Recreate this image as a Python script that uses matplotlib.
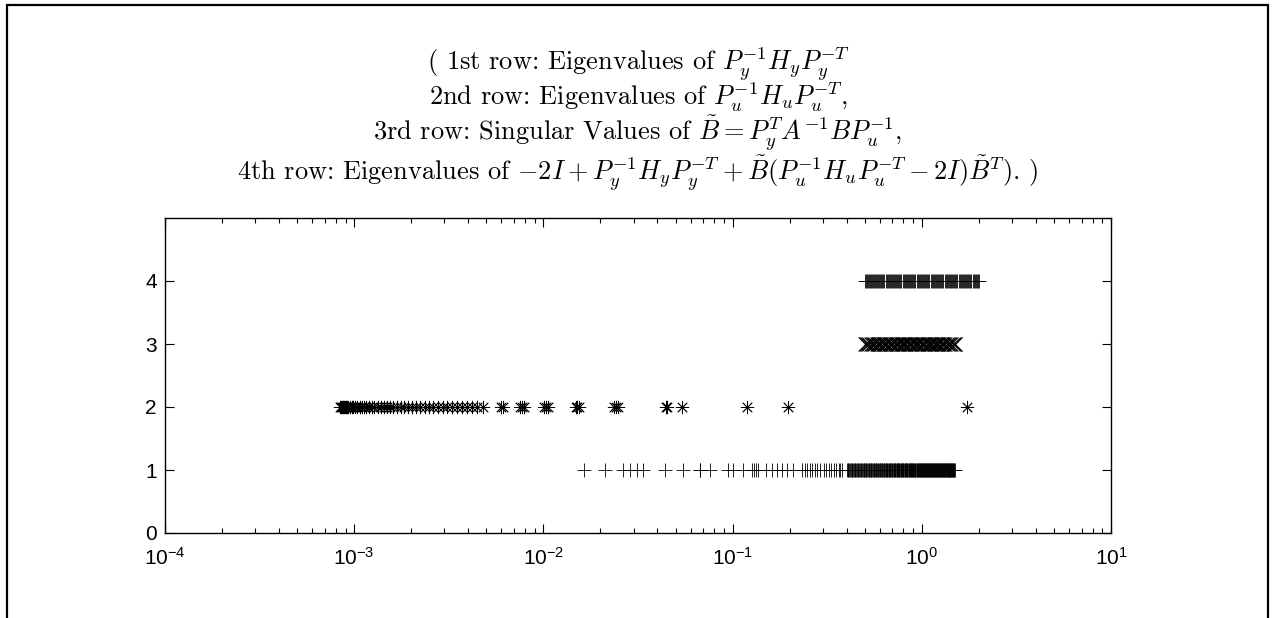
import numpy as np
import matplotlib
matplotlib.use('Agg')
from matplotlib import pyplot as plt
from matplotlib.patches import Rectangle
from matplotlib.ticker import LogLocator, FixedLocator

plt.rcParams['font.family'] = ['Liberation Sans', 'DejaVu Sans']
plt.rcParams['mathtext.fontset'] = 'custom'
plt.rcParams['mathtext.rm'] = 'Liberation Sans'
plt.rcParams['mathtext.it'] = 'Liberation Sans:italic'
plt.rcParams['mathtext.sf'] = 'Liberation Sans'

# row 1: eigenvalues of Py^-1 Hy Py^-T
row1 = [0.0164, 0.0212, 0.0264, 0.0287, 0.0312, 0.0336, 0.0439, 0.0547, 0.0672, 0.0676,
        0.076, 0.0946, 0.1005, 0.1135, 0.127, 0.130, 0.133, 0.136, 0.150, 0.1616,
        0.1714, 0.182, 0.1935, 0.2076, 0.232, 0.240, 0.247, 0.256, 0.264, 0.272,
        0.281, 0.290, 0.304, 0.313, 0.322, 0.333, 0.342, 0.352, 0.363, 0.371, 0.380,
        0.401, 0.405, 0.409, 0.414, 0.418, 0.422, 0.426, 0.430, 0.433, 0.437, 0.441,
        0.446, 0.450, 0.454, 0.458, 0.462, 0.466, 0.470, 0.475, 0.480, 0.484, 0.489,
        0.493, 0.497, 0.501, 0.506, 0.510, 0.514, 0.519, 0.523, 0.528, 0.532, 0.537,
        0.541, 0.546, 0.551, 0.556, 0.561, 0.566, 0.570, 0.575, 0.580, 0.585, 0.590,
        0.594, 0.599, 0.604, 0.609, 0.614, 0.619, 0.624, 0.628, 0.633, 0.638, 0.643,
        0.648, 0.653, 0.658, 0.663, 0.668, 0.673, 0.678, 0.683, 0.689, 0.694, 0.699,
        0.704, 0.709, 0.714, 0.720, 0.725, 0.730, 0.735, 0.741, 0.746, 0.751, 0.756,
        0.762, 0.767, 0.773, 0.778, 0.784, 0.789, 0.795, 0.800, 0.806, 0.811, 0.817,
        0.822, 0.828, 0.833, 0.839, 0.845, 0.851, 0.856, 0.862, 0.868, 0.874, 0.879,
        0.885, 0.891, 0.897, 0.903, 0.909, 0.914, 0.920, 0.926, 0.932, 0.938, 0.944,
        0.950, 0.956, 0.962, 0.969, 0.975, 0.981, 0.987, 0.994, 1.000, 1.006, 1.012,
        1.019, 1.025, 1.032, 1.038, 1.045, 1.051, 1.058, 1.064, 1.071, 1.077, 1.084,
        1.090, 1.097, 1.104, 1.111, 1.117, 1.124, 1.131, 1.138, 1.145, 1.152, 1.159,
        1.166, 1.173, 1.180, 1.187, 1.194, 1.201, 1.209, 1.216, 1.223, 1.230, 1.238,
        1.245, 1.253, 1.260, 1.268, 1.275, 1.283, 1.290, 1.298, 1.305, 1.313, 1.321,
        1.329, 1.336, 1.344, 1.352, 1.360, 1.368, 1.376, 1.384, 1.392, 1.400, 1.408,
        1.416, 1.425, 1.433, 1.441, 1.449, 1.458, 1.466, 1.474, 1.482, 1.490]

# row 2: eigenvalues of Pu^-1 Hu Pu^-T
row2 = [0.00084, 0.00085, 0.00086, 0.00087, 0.00088, 0.00089, 0.00090, 0.00092, 0.00093,
        0.00095, 0.00097, 0.00099, 0.00101, 0.00104, 0.00107, 0.00110, 0.00113, 0.00116,
        0.00120, 0.00124, 0.00128, 0.00133, 0.00138, 0.00143, 0.00149, 0.00155, 0.00161,
        0.00168, 0.00176, 0.00184, 0.00193, 0.00202, 0.00212, 0.00223, 0.00236, 0.00248,
        0.00262, 0.00277, 0.00293, 0.00310, 0.00330, 0.00351, 0.00372, 0.00396, 0.00420,
        0.00448, 0.00478, 0.00598, 0.00612, 0.00752, 0.00770, 0.00790, 0.0101, 0.0103,
        0.0106, 0.0148, 0.0151, 0.0154, 0.0237, 0.0242, 0.0248, 0.0442, 0.0448, 0.0540,
        0.119, 0.196, 1.733]

# row 3: singular values of B~
row3 = [0.498, 0.506, 0.514, 0.521, 0.529, 0.537, 0.545, 0.553, 0.561, 0.569, 0.578,
        0.586, 0.595, 0.604, 0.612, 0.621, 0.630, 0.640, 0.649, 0.658, 0.668, 0.678,
        0.688, 0.698, 0.708, 0.718, 0.729, 0.739, 0.750, 0.761, 0.772, 0.783, 0.795,
        0.806, 0.818, 0.830, 0.842, 0.854, 0.866, 0.879, 0.891, 0.904, 0.917, 0.931,
        0.944, 0.958, 0.972, 0.986, 1.000, 1.014, 1.029, 1.044, 1.059, 1.074, 1.090,
        1.105, 1.121, 1.138, 1.154, 1.171, 1.188, 1.205, 1.222, 1.240, 1.258, 1.276,
        1.295, 1.314, 1.333, 1.352, 1.372, 1.391, 1.412, 1.432, 1.453, 1.474, 1.490, 1.507]

# row 4: eigenvalues of -2I + Py^-1 Hy Py^-T + B~(Pu^-1 Hu Pu^-T - 2I)B~^T
row4 = [0.500, 0.506, 0.513, 0.519, 0.524, 0.531, 0.538, 0.545, 0.551, 0.558, 0.566,
        0.573, 0.580, 0.588, 0.595, 0.603, 0.611, 0.618, 0.627, 0.635, 0.643, 0.651,
        0.660, 0.668, 0.677, 0.686, 0.695, 0.704, 0.713, 0.722, 0.732, 0.741, 0.751,
        0.761, 0.771, 0.781, 0.791, 0.802, 0.812, 0.823, 0.834, 0.845, 0.856, 0.867,
        0.879, 0.890, 0.902, 0.914, 0.926, 0.938, 0.951, 0.963, 0.976, 0.989, 1.002,
        1.015, 1.028, 1.042, 1.056, 1.070, 1.084, 1.098, 1.113, 1.127, 1.142, 1.157,
        1.172, 1.188, 1.203, 1.219, 1.235, 1.252, 1.268, 1.285, 1.302, 1.319, 1.336,
        1.354, 1.372, 1.390, 1.408, 1.427, 1.445, 1.464, 1.484, 1.503, 1.523, 1.543,
        1.564, 1.584, 1.605, 1.626, 1.648, 1.670, 1.692, 1.714, 1.737, 1.760, 1.783,
        1.806, 1.830, 1.855, 1.879, 1.904, 1.929, 1.955, 1.980, 2.005]

rows = [row1, row2, row3, row4]
markers = ['+', (8, 2, 0), 'x', '+']

title_lines = ['( 1st row: Eigenvalues of $P_y^{-1}H_yP_y^{-T}$',
               '2nd row: Eigenvalues of $P_u^{-1}H_uP_u^{-T}$,',
               '3rd row: Singular Values of $\\tilde{B} = P_y^TA^{-1}BP_u^{-1}$,',
               '4th row: Eigenvalues of $-2I + P_y^{-1}H_yP_y^{-T} + '
               '\\tilde{B}(P_u^{-1}H_uP_u^{-T} - 2I)\\tilde{B}^T)$. )']
title_baselines = [70, 105, 140, 180]   # pixels from top

W, H = 1274, 618
fig = plt.figure(figsize=(W/100, H/100), dpi=100)
ax = fig.add_axes([165/W, 85/H, 946/W, 315/H])

for i, vals in enumerate(rows):
    ax.plot(vals, np.full(len(vals), i + 1), linestyle='none', marker=markers[i],
            color='black', markersize=9.5, markeredgewidth=0.6)

ax.set_xscale('log')
ax.set_xlim(1e-4, 1e1)
ax.set_ylim(0, 5)
ax.yaxis.set_major_locator(FixedLocator([0, 1, 2, 3, 4]))
ax.xaxis.set_major_locator(LogLocator(base=10, numticks=10))
ax.xaxis.set_minor_locator(LogLocator(base=10, subs=np.arange(2, 10), numticks=20))
ax.tick_params(which='both', direction='in', top=True, right=True, labelsize=15,
               width=0.8, color='black')
ax.tick_params(which='major', length=6.5)
ax.tick_params(which='minor', length=3.5)
ax.tick_params(axis='x', pad=10)
ax.tick_params(axis='y', pad=6)
for s in ax.spines.values():
    s.set_linewidth(1.0)

for line, yb in zip(title_lines, title_baselines):
    fig.text(638/W, 1 - yb/H, line, ha='center', va='baseline', fontsize=19,
             family='cmr10', math_fontfamily='cm')

# frame around the figure
fig.add_artist(Rectangle((7/W, -0.05), 1261/W, 1.05 - 5/H,
                         transform=fig.transFigure, fill=False, lw=1.6,
                         edgecolor='black', clip_on=False))

fig.savefig('out.png', dpi=100)
